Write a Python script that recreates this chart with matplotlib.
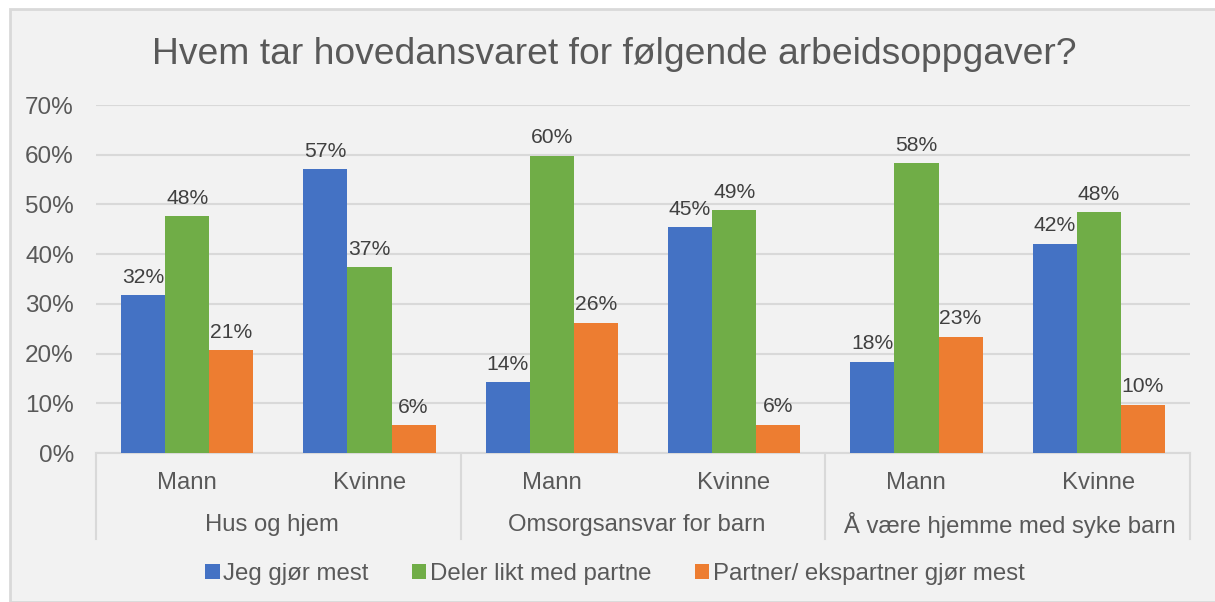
import matplotlib.pyplot as plt
from matplotlib.patches import Rectangle
from matplotlib.lines import Line2D
import numpy as np

plt.rcParams['font.family'] = ['Liberation Sans', 'DejaVu Sans']

# Data
groups = ['Hus og hjem', 'Omsorgsansvar for barn', 'Å være hjemme med syke barn']
genders = ['Mann', 'Kvinne']
series_names = ['Jeg gjør mest', 'Deler likt med partne', 'Partner/ ekspartner gjør mest']
jeg = [31.8, 57.1, 14.3, 45.4, 18.4, 42.1]
deler = [47.6, 37.4, 59.8, 48.9, 58.3, 48.4]
partner = [20.7, 5.6, 26.2, 5.7, 23.4, 9.7]
yticks = [0, 10, 20, 30, 40, 50, 60, 70]

colors = ['#4472C4', '#70AD47', '#ED7D31']
bg = '#F2F2F2'
grid_c = '#D9D9D9'
txt = '#595959'

W, H = 1215, 602
fig = plt.figure(figsize=(W / 100, H / 100), dpi=100)
fig.patch.set_facecolor('white')

# chart area background with border
fig.patches.append(Rectangle((10 / W, 0), 1.2, 1 - 9 / H, transform=fig.transFigure,
                             facecolor=bg, edgecolor=grid_c, linewidth=2, zorder=-5))

x0, x1, y0, y1 = 96, 1190, 453, 105
ax = fig.add_axes([x0 / W, 1 - y0 / H, (x1 - x0) / W, (y0 - y1) / H])
ax.set_facecolor('none')
ax.set_zorder(2)

x = np.arange(6)
bw = 0.242
for i, vals in enumerate([jeg, deler, partner]):
    bars = ax.bar(x + (i - 1) * bw, vals, width=bw, color=colors[i], label=series_names[i], zorder=3)
    for b, v in zip(bars, vals):
        ax.annotate('{:.0f}%'.format(v), (b.get_x() + b.get_width() / 2, v),
                    xytext=(0, 6), textcoords='offset points', ha='center', va='bottom',
                    fontsize=15.2, color='#404040')

ax.set_xlim(-0.5, 5.5)
ax.set_ylim(0, 70)
ax.set_yticks(yticks)
ax.set_yticklabels(['{}%'.format(t) for t in yticks], fontsize=17.5, color=txt)
ax.yaxis.grid(True, color=grid_c, linewidth=1.5, zorder=0)
ax.tick_params(axis='y', length=0, pad=16)
ax.set_xticks([])
for s in ['top', 'right', 'left']:
    ax.spines[s].set_visible(False)
ax.spines['bottom'].set_color(grid_c)
ax.spines['bottom'].set_linewidth(1.5)

# category labels (two levels)
for k in range(6):
    fig.text((x0 + 91 + k * 182.3) / W, 1 - 483 / H, genders[k % 2], ha='center', va='center',
             fontsize=17.2, color=txt)
group_x = [272, 637, 1010]
for g in range(3):
    fig.text(group_x[g] / W, 1 - 525 / H, groups[g], ha='center', va='center',
             fontsize=17.2, color=txt)
for g in range(4):
    xx = (x0 + g * 364.7) / W
    fig.lines.append(Line2D([xx, xx], [1 - 453 / H, 1 - 539 / H], transform=fig.transFigure,
                            color=grid_c, linewidth=1.5))

fig.text(614 / W, 1 - 54 / H, 'Hvem tar hovedansvaret for følgende arbeidsoppgaver?', ha='center',
         va='center', fontsize=26.8, color=txt)

fig.legend(loc='center', bbox_to_anchor=(615 / W, 1 - 574 / H), ncol=3, frameon=False,
           fontsize=17.3, handlelength=0.6, handleheight=0.6, handletextpad=0.15,
           columnspacing=1.8, labelcolor=txt)

fig.savefig('out.png', dpi=100, facecolor='white')
